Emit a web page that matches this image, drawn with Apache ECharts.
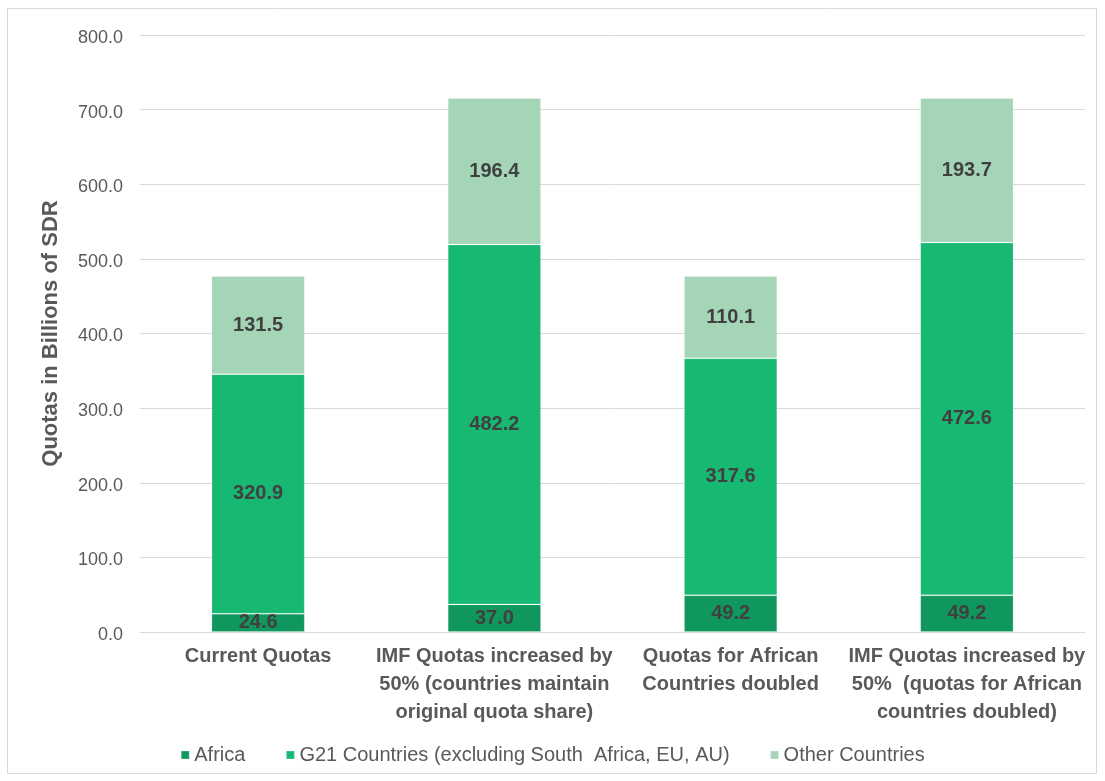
<!DOCTYPE html>
<html>
<head>
<meta charset="utf-8">
<script src="https://cdn.jsdelivr.net/npm/echarts@6/dist/echarts.min.js"></script>
<style>
html,body{margin:0;padding:0;background:#fff;}
#chart{width:1105px;height:781px;}
</style>
</head>
<body>
<div id="chart"></div>
<script>
const categories = [
  "Current Quotas",
  "IMF Quotas increased by\n50% (countries maintain\noriginal quota share)",
  "Quotas for African\nCountries doubled",
  "IMF Quotas increased by\n50%  (quotas for African\ncountries doubled)"
];
const seriesNames = ["Africa", "G21 Countries (excluding South  Africa, EU, AU)", "Other Countries"];
const africa = [24.6, 37.0, 49.2, 49.2];
const g21 = [320.9, 482.2, 317.6, 472.6];
const other = [131.5, 196.4, 110.1, 193.7];
const colors = ["#0f975d", "#17b872", "#a5d5b7"];

const chart = echarts.init(document.getElementById('chart'));
const sans = "'Liberation Sans', Arial, sans-serif";
function mk(name, data, color) {
  return {
    name: name, type: 'bar', stack: 'total', data: data, barWidth: '39.5%',
    itemStyle: { color: color, borderColor: 'rgba(255,255,255,0.15)', borderWidth: 1 },
    label: { show: true, position: 'inside', color: '#404040', fontSize: 20, fontWeight: 'bold',
      fontFamily: sans, formatter: p => p.value.toFixed(1) }
  };
}
chart.setOption({
  animation: false,
  graphic: [{ type: 'rect', shape: { x: 7.5, y: 8.5, width: 1089, height: 765 },
    style: { fill: 'none', stroke: '#d9d9d9', lineWidth: 1 } }],
  grid: { left: 140, right: 20, top: 35, bottom: 149 },
  legend: {
    bottom: 11, left: 'center', itemWidth: 8, itemHeight: 8, itemGap: 40, icon: 'rect',
    textStyle: { color: '#595959', fontSize: 20, fontFamily: sans },
    data: seriesNames
  },
  xAxis: {
    type: 'category', data: categories,
    axisLine: { lineStyle: { color: '#d9d9d9' } }, axisTick: { show: false },
    axisLabel: { color: '#595959', fontSize: 20, fontWeight: 'bold', fontFamily: sans, lineHeight: 28, margin: 10, interval: 0 }
  },
  yAxis: {
    type: 'value', min: 0, max: 800, interval: 100,
    name: 'Quotas in Billions of SDR', nameLocation: 'middle', nameGap: 78, nameRotate: 90,
    nameTextStyle: { color: '#595959', fontSize: 22, fontWeight: 'bold', fontFamily: sans },
    axisLine: { show: false }, axisTick: { show: false },
    splitLine: { lineStyle: { color: '#d9d9d9', width: 1 } },
    axisLabel: { color: '#595959', fontSize: 18, margin: 17, formatter: v => v.toFixed(1), fontFamily: sans, verticalAlign: 'top', lineHeight: 6 }
  },
  series: [mk(seriesNames[0], africa, colors[0]), mk(seriesNames[1], g21, colors[1]), mk(seriesNames[2], other, colors[2])]
});
</script>
</body>
</html>
